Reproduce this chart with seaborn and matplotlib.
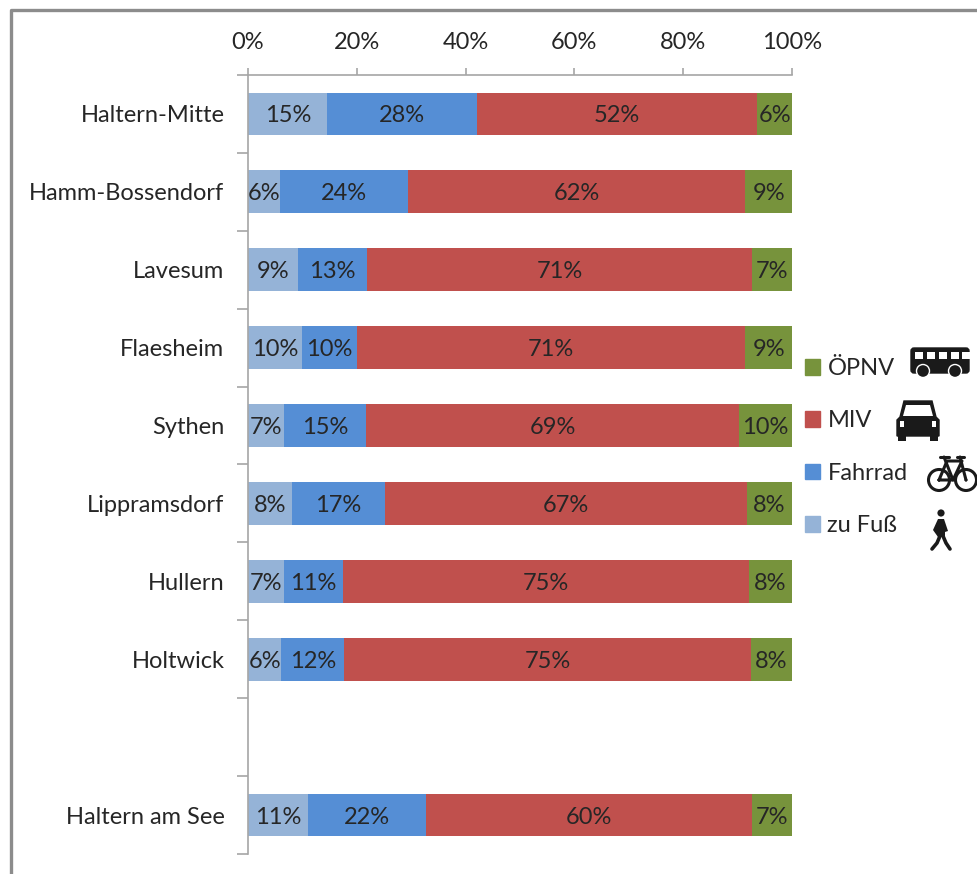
import matplotlib
matplotlib.use('Agg')
import matplotlib.pyplot as plt
import seaborn as sns
import pandas as pd
import numpy as np
from matplotlib.lines import Line2D
from matplotlib.patches import Circle, Polygon, Rectangle, FancyBboxPatch

orte = ['Haltern-Mitte', 'Hamm-Bossendorf', 'Lavesum', 'Flaesheim', 'Sythen',
        'Lippramsdorf', 'Hullern', 'Holtwick', ' ', 'Haltern am See']
zu_fuss = [14.6, 5.9, 9.2, 10.0, 6.6, 8.0, 6.6, 6.1, 0, 11.0]
fahrrad = [27.5, 23.5, 12.7, 10.0, 15.1, 17.1, 10.9, 11.6, 0, 21.7]
miv = [51.5, 62.0, 70.7, 71.4, 68.6, 66.6, 74.6, 74.7, 0, 59.9]
oepnv = [6.4, 8.6, 7.4, 8.6, 9.7, 8.3, 7.9, 7.6, 0, 7.4]

modi = ['zu Fuß', 'Fahrrad', 'MIV', 'ÖPNV']
farben = ['#95B3D7', '#558ED5', '#C0504D', '#77933C']
x_ticks = [0, 20, 40, 60, 80, 100]

W, H = 978, 874
GRAU = '#A6A6A6'
TEXT = '#262626'
FS = 17

sns.set_theme(style='white')
plt.rcParams['font.family'] = ['Lato', 'DejaVu Sans']

df = pd.DataFrame({'ort': orte, 'zu Fuß': zu_fuss, 'Fahrrad': fahrrad, 'MIV': miv, 'ÖPNV': oepnv})
cum = df[modi].cumsum(axis=1)

fig = plt.figure(figsize=(W / 100, H / 100), dpi=100)
ax = fig.add_axes([248 / W, 1 - 854 / H, (792 - 248) / W, (854 - 75) / H])

# gestapelt: groesste Summe zuerst, der Rest liegt darueber
for m, f in zip(modi[::-1], farben[::-1]):
    sns.barplot(x=cum[m], y=df['ort'], order=orte, color=f, width=0.55, saturation=1,
                errorbar=None, linewidth=0, ax=ax)

ax.set_xlim(0, 100)
ax.set_ylim(9.5, -0.5)
ax.set_xlabel('')
ax.set_ylabel('')

ax.xaxis.tick_top()
ax.set_xticks(x_ticks)
ax.set_xticklabels([f'{t}%' for t in x_ticks], fontsize=FS, color=TEXT)
ax.tick_params(axis='x', top=True, length=5, width=1.2, color=GRAU, pad=10.5)
ax.tick_params(axis='y', which='major', left=False, length=0, pad=17, labelsize=FS, labelcolor=TEXT)
ax.set_yticks(np.arange(-0.5, 10, 1), minor=True)
ax.tick_params(axis='y', which='minor', left=True, length=8, width=1.2, color=GRAU)
for lab in ax.get_yticklabels():
    lab.set_color(TEXT)
    lab.set_verticalalignment('center_baseline')

for s in ['right', 'bottom']:
    ax.spines[s].set_visible(False)
for s in ['top', 'left']:
    ax.spines[s].set_color(GRAU)
    ax.spines[s].set_linewidth(1.2)

# Beschriftung in den Segmenten
for i, ort in enumerate(orte):
    if ort == ' ':
        continue
    start = 0
    for m in modi:
        wert = df.loc[i, m]
        ax.text(start + wert / 2, i, f'{wert:.0f}%', ha='center', va='center_baseline',
                fontsize=FS, color=TEXT)
        start += wert

handles = [Rectangle((0, 0), 1, 1, color=f) for f in farben[::-1]]
leg = fig.legend(handles, modi[::-1], loc='upper left', bbox_to_anchor=(805 / W, 1 - 358 / H),
                 frameon=False, fontsize=FS, handlelength=0.65, handleheight=0.65,
                 handletextpad=0.3, labelspacing=1.33, labelcolor=TEXT, borderpad=0, borderaxespad=0)

# Rahmen und Piktogramme in Pixelkoordinaten
ov = fig.add_axes([0, 0, 1, 1], zorder=5)
ov.set_xlim(0, W)
ov.set_ylim(H, 0)
ov.axis('off')
ov.patch.set_alpha(0)
ov.add_line(Line2D([10.5, 10.5, W], [H, 9.5, 9.5], color='#8C8C8C', lw=2.4))

K = '#1A1A1A'
# Bus
ov.add_patch(FancyBboxPatch((911, 348), 58, 25, boxstyle='round,pad=0,rounding_size=3', fc=K, ec=K, lw=1))
for wx in [915, 927, 939, 951, 962]:
    ov.add_patch(Rectangle((wx, 352), 8, 6.5, fc='white', ec='none'))
for wx in [923, 955]:
    ov.add_patch(Circle((wx, 371), 6.5, fc=K, ec='white', lw=1))
# Auto
ov.add_patch(Polygon([[904, 401], [932, 401], [936, 417], [939, 420], [939, 436], [897, 436], [897, 420], [900, 417]],
                     closed=True, fc=K, ec=K, lw=1))
ov.add_patch(Polygon([[906, 405], [930, 405], [933, 416], [903, 416]], closed=True, fc='white', ec='none'))
ov.add_patch(Rectangle((900, 421), 4, 6, fc='white', ec='none'))
ov.add_patch(Rectangle((932, 421), 4, 6, fc='white', ec='none'))
ov.add_patch(Rectangle((898, 434), 8, 7, fc=K, ec='none'))
ov.add_patch(Rectangle((930, 434), 8, 7, fc=K, ec='none'))
# Fahrrad
for wx in [939, 966]:
    ov.add_patch(Circle((wx, 480), 10.5, fc='none', ec=K, lw=2.2))
    ov.add_patch(Circle((wx, 480), 1.5, fc=K, ec='none'))
for xs, ys in [([939, 947, 962, 953, 939], [480, 461, 461, 480, 480]),
               ([944, 953], [457, 480]), ([940, 949], [457, 457]),
               ([960, 966], [457, 480]), ([957, 964], [457, 457])]:
    ov.add_line(Line2D(xs, ys, color=K, lw=2.2))
# Fussgaenger
ov.add_patch(Circle((941, 513), 3.6, fc=K, ec='none'))
ov.add_patch(Polygon([[938, 519], [944, 519], [948, 531], [945, 532], [945, 537], [938, 537], [933, 530]],
                     closed=True, fc=K, ec='none'))
ov.add_line(Line2D([940, 937, 932], [536, 543, 549], color=K, lw=2.6))
ov.add_line(Line2D([943, 946, 950], [536, 543, 549], color=K, lw=2.6))

fig.savefig('out.png', dpi=100, facecolor='white')
